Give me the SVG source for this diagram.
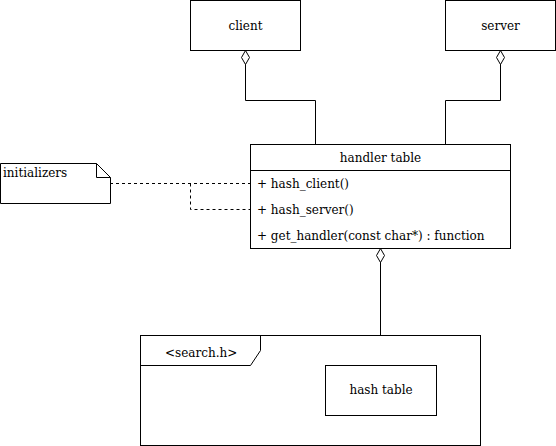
<svg xmlns="http://www.w3.org/2000/svg" width="556" height="446" viewBox="0 0 556 446">
<defs>
<style>
text{font-family:'DejaVu Serif','Liberation Serif',serif;font-size:12px;fill:#000}
.box{fill:#fff;stroke:#000;stroke-width:1}
.ln{fill:none;stroke:#000;stroke-width:1}
.dash{fill:none;stroke:#000;stroke-width:1;stroke-dasharray:3,3}
.c{text-anchor:middle}
</style>
<marker id="dia" viewBox="0 0 16 10" refX="1" refY="5" markerWidth="16" markerHeight="10" markerUnits="userSpaceOnUse" orient="auto">
<path d="M1,5 L8,1 L15,5 L8,9 Z" fill="#fff" stroke="#000" stroke-width="1"/>
</marker>
</defs>
<rect width="556" height="446" fill="#fff"/>
<g id="connectors">
<path class="ln" d="M245.5,50.5 V100.5 H315.5 V144.5" marker-start="url(#dia)"/>
<path class="ln" d="M500.5,50.5 V100.5 H445.5 V144.5" marker-start="url(#dia)"/>
<path class="ln" d="M380.5,248.5 V365.5" marker-start="url(#dia)"/>
<path class="dash" d="M110,183.5 H250"/>
<path class="dash" d="M190.5,183.5 V209.5 H250"/>
</g>
<g id="client">
<rect class="box" x="190.5" y="0.5" width="110" height="50"/>
<text class="c" x="245.5" y="30">client</text>
</g>
<g id="server">
<rect class="box" x="445.5" y="0.5" width="110" height="50"/>
<text class="c" x="500.5" y="30">server</text>
</g>
<g id="handler-table">
<rect class="box" x="250.5" y="144.5" width="260" height="104"/>
<line class="ln" x1="250.5" y1="170.5" x2="510.5" y2="170.5"/>
<text class="c" x="380.5" y="162">handler table</text>
<text x="257" y="188">+ hash_client()</text>
<text x="257" y="214">+ hash_server()</text>
<text x="257" y="240">+ get_handler(const char*) : function</text>
</g>
<g id="initializers">
<path class="box" d="M0.5,163.5 H96.5 L110.5,177.5 V203.5 H0.5 Z"/>
<path class="ln" d="M96.5,163.5 V177.5 H110.5"/>
<text x="3" y="177">initializers</text>
</g>
<g id="search-h">
<rect class="box" x="140.5" y="335.5" width="340" height="110"/>
<path class="ln" d="M140.5,365.5 H250.5 L260.5,350.5 V335.5"/>
<text x="165" y="357">&lt;search.h&gt;</text>
</g>
<g id="hash-table">
<rect class="box" x="325.5" y="365.5" width="111" height="50"/>
<text class="c" x="381" y="394">hash table</text>
</g>
</svg>
